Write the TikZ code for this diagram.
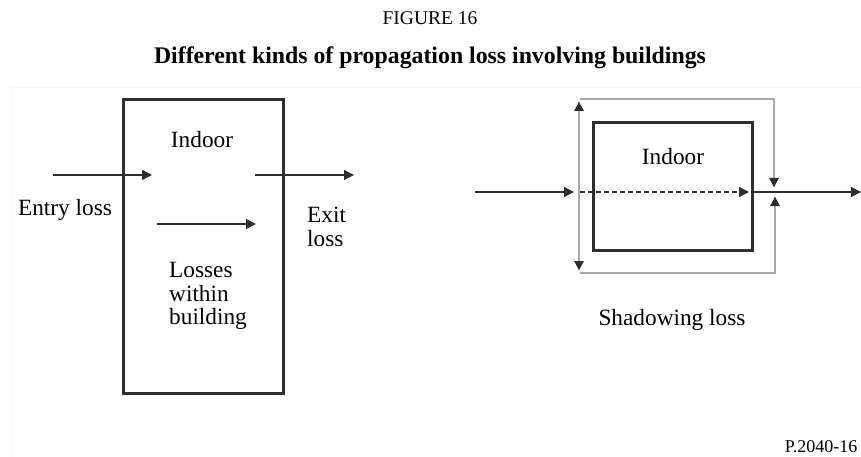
\documentclass[tikz,border=0pt]{standalone}
\usepackage{fontspec}
\setmainfont{Liberation Serif}
\usetikzlibrary{arrows.meta}
\definecolor{ink}{HTML}{2E2E2E}
\definecolor{lgray}{HTML}{A8A8A8}
\begin{document}
\begin{tikzpicture}[x=1pt,y=-1pt,
  lbl/.style={inner sep=0pt,font=\fontsize{23.3}{23.5}\selectfont},
  tip/.style={-{Triangle[length=10pt,width=10pt]}},
  bldg/.style={draw=ink,line width=3pt},
  ray/.style={draw=ink,line width=1.3pt},
  guide/.style={draw=lgray,line width=1.8pt}]
\useasboundingbox (0,0) rectangle (861,457);
\draw[gray!6,line width=0.8pt] (11,457) -- (11,87) -- (861,87);
% titles
\node[inner sep=0pt,font=\fontsize{19.5}{20}\selectfont] (fig) at (430,18) {FIGURE 16};
\node[inner sep=0pt,font=\fontsize{23.8}{24}\selectfont\bfseries] (title) at (430,58) {Different kinds of propagation loss involving buildings};
% left building
\node[bldg,minimum width=160pt,minimum height=293pt,inner sep=0pt] (b1) at (203,246.5) {};
\coordinate (e1) at (53,175);
\coordinate (e2) at (152,175);
\coordinate (x1) at (255,175);
\coordinate (x2) at (354,175);
\coordinate (i1) at (157,224);
\coordinate (i2) at (256,224);
\draw[ray,tip] (e1) -- (e2);
\draw[ray,tip] (x1) -- (x2);
\draw[ray,tip] (i1) -- (i2);
\node[lbl] (in1) at (202,140) {Indoor};
\node[lbl] (entry) at (65,210) {Entry loss};
\node[lbl,anchor=west,align=left] (exit) at (307,227) {Exit\\loss};
\node[lbl,anchor=west,align=left] (within) at (169,296) {Losses\\within\\building};
% right building
\node[bldg,minimum width=159pt,minimum height=127pt,inner sep=0pt] (b2) at (672.5,186.5) {};
\node[lbl] (in2) at (673,157) {Indoor};
\coordinate (r1) at (475,192);
\coordinate (r2) at (574,192);
\coordinate (r3) at (580,192);
\coordinate (r4) at (749,192);
\coordinate (r5) at (752,192);
\coordinate (r6) at (861,192);
\draw[ray,tip] (r1) -- (r2);
\draw[ray,line width=1.5pt,dash pattern=on 5pt off 3pt,tip] (r3) -- (r4);
\draw[ray,tip] (r5) -- (r6);
% shadow guides
\coordinate (gl1) at (579,102);
\coordinate (gl2) at (579,270);
\coordinate (gt1) at (580,99);
\coordinate (gt2) at (774,99);
\coordinate (gt3) at (774,187);
\coordinate (gb1) at (580,273);
\coordinate (gb2) at (775,273);
\coordinate (gb3) at (775,197);
\draw[guide] (gl1) -- (gl2);
\draw[guide] (gt1) -- (gt2) -- (gt3);
\draw[guide] (gb1) -- (gb2) -- (gb3);
\fill[ink] (gl1) -- ++(-5,9) -- ++(10,0) -- cycle;
\fill[ink] (gl2) -- ++(-5,-9) -- ++(10,0) -- cycle;
\fill[ink] (gt3) -- ++(-5,-9) -- ++(10,0) -- cycle;
\fill[ink] (gb3) -- ++(-5,9) -- ++(10,0) -- cycle;
\node[lbl] (shadow) at (672,320) {Shadowing loss};
\node[inner sep=0pt,font=\fontsize{18}{18}\selectfont] (code) at (821,447) {P.2040-16};
\end{tikzpicture}
\end{document}
